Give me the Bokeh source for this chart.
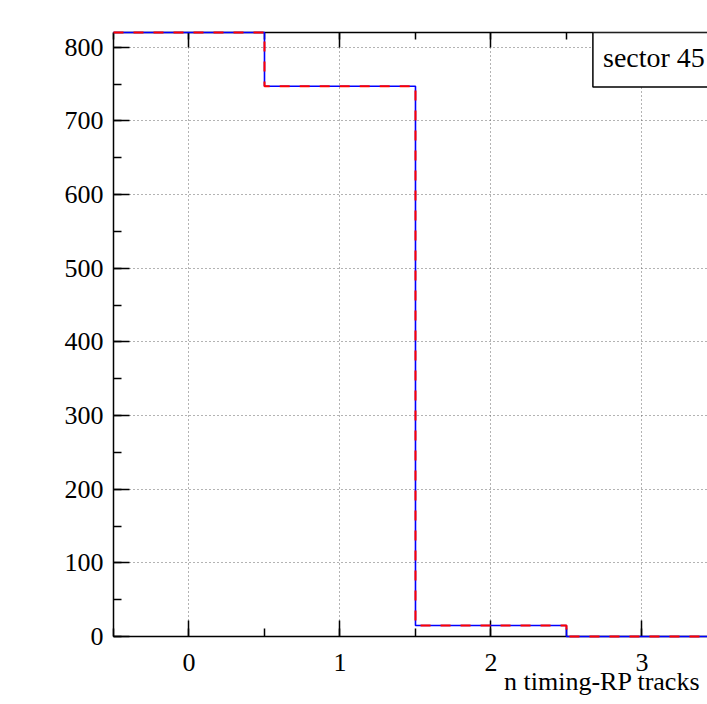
from bokeh.plotting import figure
from bokeh.models import (SingleIntervalTicker, LinearAxis, Label, BoxAnnotation,
                          CustomJSTickFormatter)
from bokeh.embed import file_html
from bokeh.resources import INLINE

# data
bin_centers = [0, 1, 2, 3]
counts = [820, 747, 15, 0]
bin_width = 1.0
x_label = "n timing-RP tracks"
legend_text = "sector 45"

FONT = "Liberation Serif"

p = figure(width=707, height=704, x_range=(-0.5, 3.434), y_range=(0, 820),
           output_backend="svg", toolbar_location=None,
           min_border_left=113, min_border_top=32, min_border_bottom=68,
           min_border_right=0, x_axis_location=None, y_axis_location=None)
p.outline_line_color = None
p.background_fill_color = "white"
p.border_fill_color = "white"

xt = SingleIntervalTicker(interval=1, num_minor_ticks=2)
yt = SingleIntervalTicker(interval=100, num_minor_ticks=2)

bottom = LinearAxis(ticker=xt)
left = LinearAxis(ticker=yt)
top = LinearAxis(ticker=SingleIntervalTicker(interval=1, num_minor_ticks=2),
                 formatter=CustomJSTickFormatter(code="return ''"))
for ax in (bottom, left, top):
    ax.axis_line_color = "black"
    ax.axis_line_width = 1.5
    ax.major_tick_line_color = "black"
    ax.major_tick_line_width = 1.5
    ax.minor_tick_line_color = "black"
    ax.minor_tick_line_width = 1.5
    ax.major_tick_out = 0
    ax.minor_tick_out = 0
    ax.major_tick_in = 16
    ax.minor_tick_in = 8
    ax.major_label_text_font = FONT
    ax.major_label_text_font_size = "26px"
    ax.major_label_text_color = "black"
bottom.major_label_standoff = 17
left.major_label_standoff = 10
top.major_label_text_font_size = "2px"
top.major_label_standoff = 0
top.major_tick_in = 15
top.minor_tick_in = 7

# ROOT puts the axis title at the right end of the axis; pad with
# non-breaking spaces so the centred Bokeh label lands there.
bottom.axis_label = "\u00a0" * 59 + x_label
bottom.axis_label_text_font = FONT
bottom.axis_label_text_font_size = "26px"
bottom.axis_label_text_font_style = "normal"
bottom.axis_label_text_color = "black"
bottom.axis_label_standoff = -7
bottom.axis_label_align = "center"

p.add_layout(bottom, "below")
p.add_layout(left, "left")
p.add_layout(top, "above")

p.xgrid.ticker = xt
p.ygrid.ticker = yt
for g in (p.xgrid, p.ygrid):
    g.grid_line_color = "#666666"
    g.grid_line_dash = "1 3"
    g.grid_line_width = 1

# histogram step path built from data (ROOT style, left edge hidden under axis)
xs = []
ys = []
for c, v in zip(bin_centers, counts):
    xs += [c - bin_width / 2, c + bin_width / 2]
    ys += [v, v]

p.line(xs, ys, line_color="#0000ff", line_width=1.6, level="overlay")
p.line(xs, ys, line_color="#ff0000", line_width=2, line_dash="10 10",
       level="overlay")

# legend box
box = BoxAnnotation(left=2.675, right=4.0, top=820, bottom=746,
                    fill_color="white", fill_alpha=1.0,
                    line_color="black", line_alpha=1.0, line_width=1.5,
                    level="annotation")
p.add_layout(box)
p.add_layout(Label(x=2.742, y=786, text=legend_text, text_font=FONT,
                   text_font_size="28px", text_color="black",
                   text_baseline="alphabetic", text_align="left"))

open("out.html", "w").write(file_html(p, INLINE))
